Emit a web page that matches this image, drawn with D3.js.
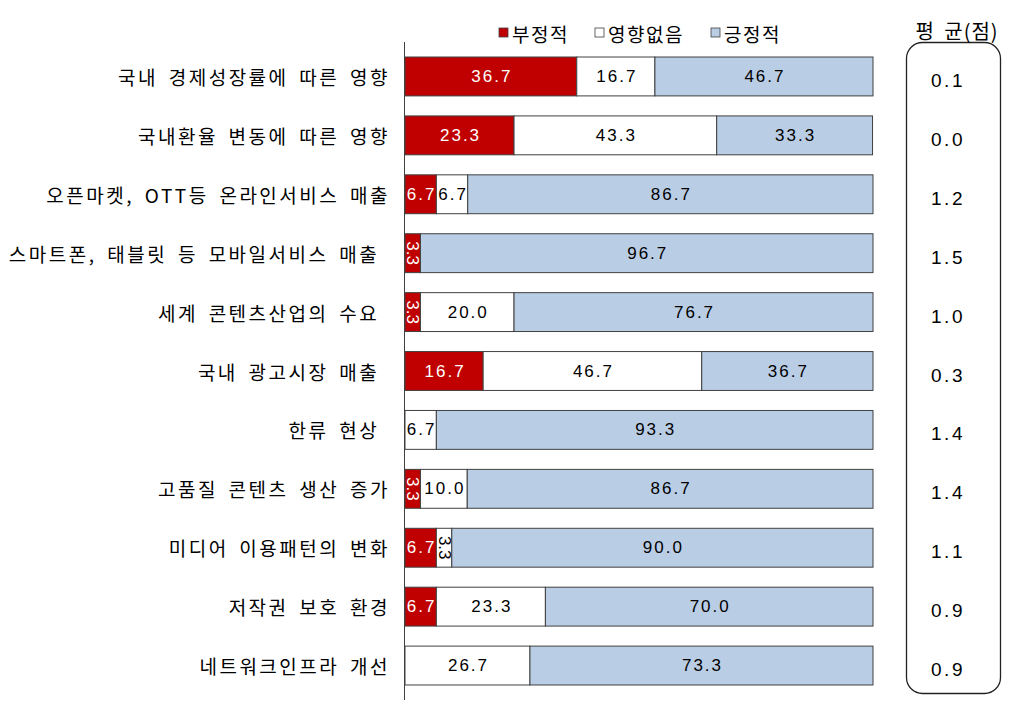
<!DOCTYPE html>
<html>
<head>
<meta charset="utf-8">
<style>
body { margin: 0; background: #fff; }
text { font-family: "Liberation Sans", "Noto Sans CJK KR", sans-serif; }
.cat { font-family: "Noto Sans CJK KR", sans-serif; font-size: 19px; letter-spacing: 2.5px; word-spacing: 4px; white-space: pre; }
.num { font-size: 17px; letter-spacing: 2px; }
</style>
</head>
<body>
<script src="https://cdn.jsdelivr.net/npm/d3@7"></script>
<script>
// data
var categories = ["국내 경제성장률에 따른 영향", "국내환율 변동에 따른 영향", "오픈마켓, OTT등 온라인서비스 매출",
  "스마트폰, 태블릿 등 모바일서비스 매출 ", "세계 콘텐츠산업의 수요 ", "국내 광고시장 매출 ", "한류 현상 ",
  "고품질 콘텐츠 생산 증가", "미디어 이용패턴의 변화", "저작권 보호 환경", "네트워크인프라 개선"];
var negative = [36.7, 23.3, 6.7, 3.3, 3.3, 16.7, 0, 3.3, 6.7, 6.7, 0];
var neutral  = [16.7, 43.3, 6.7, 0, 20.0, 46.7, 6.7, 10.0, 3.3, 23.3, 26.7];
var positive = [46.7, 33.3, 86.7, 96.7, 76.7, 36.7, 93.3, 86.7, 90.0, 70.0, 73.3];
var averages = ["0.1", "0.0", "1.2", "1.5", "1.0", "0.3", "1.4", "1.4", "1.1", "0.9", "0.9"];
var seriesNames = ["부정적", "영향없음", "긍정적"];
var colors = ["#c00000", "#ffffff", "#b9cde5"];

var width = 1024, height = 712;
var svg = d3.select("body").append("svg").attr("width", width).attr("height", height);

var x = d3.scaleLinear().domain([0, 100]).range([405, 873]);
var y = d3.scaleBand().domain(d3.range(categories.length)).range([47, 695]).paddingInner(0.34).paddingOuter(0.17);

// stacked rows
var rows = categories.map(function(c, i) {
  return [negative[i], neutral[i], positive[i]];
});

var g = svg.append("g");
rows.forEach(function(vals, i) {
  var start = 0;
  vals.forEach(function(v, k) {
    if (v > 0) {
      var x0 = x(start), x1 = x(Math.min(start + v, 100));
      g.append("rect")
        .attr("x", x0).attr("y", y(i))
        .attr("width", x1 - x0).attr("height", y.bandwidth())
        .attr("fill", colors[k]).attr("stroke", "#404040").attr("stroke-width", 1);
      var cx = (x0 + x1) / 2 + 1, cy = y(i) + y.bandwidth() / 2;
      var t = g.append("text")
        .attr("class", "num")
        .attr("fill", k == 0 ? "#fff" : "#000")
        .attr("text-anchor", "middle")
        .attr("dominant-baseline", "central")
        .text(v.toFixed(1));
      if (v < 5) {
        t.style("letter-spacing", "0px").attr("transform", "translate(" + (cx - 1) + "," + cy + ")rotate(90)");
      } else {
        t.attr("x", cx).attr("y", cy);
      }
    }
    start += v;
  });
});

// axis line
svg.append("line").attr("x1", 404.5).attr("x2", 404.5).attr("y1", 42).attr("y2", 700)
  .attr("stroke", "#404040").attr("stroke-width", 1);

// category labels
svg.selectAll(".cat").data(categories).enter().append("text")
  .attr("class", "cat")
  .attr("x", 390)
  .attr("y", function(d, i) { return y(i) + y.bandwidth() / 2; })
  .attr("text-anchor", "end")
  .attr("dominant-baseline", "central")
  .text(function(d) { return d; });

// legend
var legX = [499, 595, 711];
seriesNames.forEach(function(n, k) {
  svg.append("rect").attr("x", legX[k]).attr("y", 28).attr("width", 9).attr("height", 9)
    .attr("fill", colors[k]).attr("stroke", "#404040").attr("stroke-width", 0.8);
  svg.append("text").attr("class", "cat").attr("x", legX[k] + 13).attr("y", 33)
    .attr("dominant-baseline", "central").style("letter-spacing", "1.5px").text(n);
});

// average box
svg.append("rect").attr("x", 906.5).attr("y", 42.5).attr("width", 94).attr("height", 651)
  .attr("rx", 16).attr("fill", "none").attr("stroke", "#222").attr("stroke-width", 1.3);
svg.append("text").attr("class", "cat").attr("x", 957).attr("y", 30)
  .attr("text-anchor", "middle").attr("dominant-baseline", "central")
  .style("font-size", "20px").style("letter-spacing", "1px").text("평 균(점)");
svg.selectAll(".avg").data(averages).enter().append("text")
  .attr("x", 948)
  .attr("y", function(d, i) { return y(i) + y.bandwidth() / 2 + 4; })
  .attr("text-anchor", "middle").attr("dominant-baseline", "central")
  .attr("font-size", 19).style("letter-spacing", "2.5px")
  .text(function(d) { return d; });
</script>
</body>
</html>
